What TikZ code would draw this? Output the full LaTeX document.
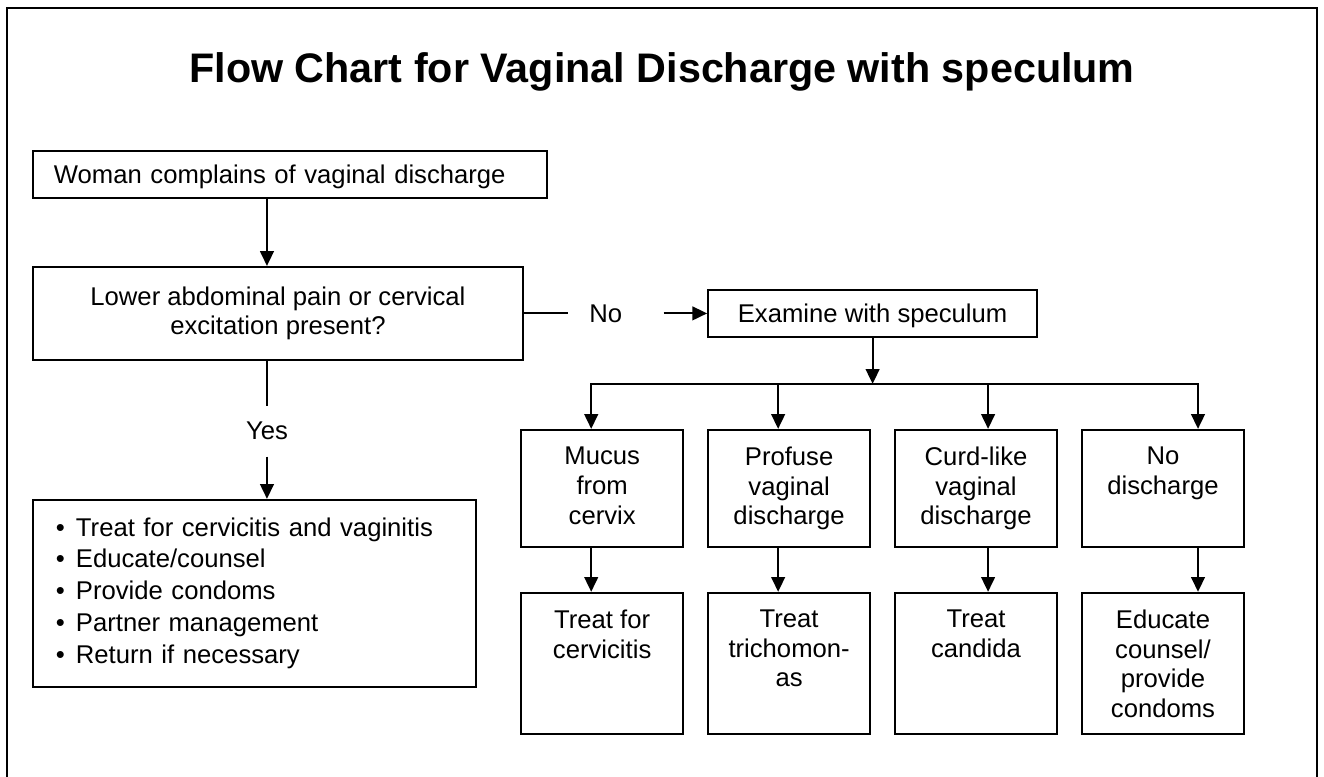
\documentclass[tikz,border=0pt]{standalone}
\usepackage{fontspec}
\setmainfont{Liberation Sans}
\usepackage{tikz}
\usetikzlibrary{arrows.meta, positioning, calc}
\newcommand{\celltext}[2]{\parbox[c][#1][t]{3.24cm}{\centering\vspace*{0.35cm}#2}}
\newcommand{\bul}{\makebox[0.4cm][l]{\textbullet}}
\tikzset{
    font=\fontsize{14.6pt}{16.8pt}\selectfont,
    >={Triangle[length=8.4pt, width=7.8pt]},
    % Shapes
    box/.style={rectangle, draw, line width=1.1pt, inner sep=0pt},
    single/.style={box, minimum height=0.94cm, text depth=0pt},
    cellTop/.style={box, minimum width=3.24cm, minimum height=2.34cm},
    cellBot/.style={box, minimum width=3.24cm, minimum height=2.82cm},
    title/.style={font=\bfseries\fontsize{23.5pt}{28pt}\selectfont, anchor=base},
    % Flow & Labels
    flow/.style={->, line width=1.1pt},
    link/.style={line width=1.1pt},
    lbl/.style={inner sep=0pt}
}

\begin{document}
\begin{tikzpicture}[node distance=0.46cm]
\useasboundingbox (0,0) rectangle (26.48,-15.54);
\draw[link] (0.14,-15.54) |- (26.34,-0.16) -- (26.34,-15.54);

\node[title] (title) at (13.24,-1.66) {Flow Chart for Vaginal Discharge with speculum};

% left column
\node[single, anchor=north west, text width=9.44cm, inner xsep=0.42cm, align=left] (woman) at (0.64,-3.0) {Woman complains of vaginal discharge};
\node[box, below=1.34cm of woman.south west, anchor=north west, minimum width=9.8cm, minimum height=1.86cm, align=center] (lower) {Lower abdominal pain or cervical\\excitation present?};
\node[lbl, below=0.9cm of lower, xshift=-0.22cm, minimum height=1cm] (yes) {Yes};
\node[box, below=2.76cm of lower.south west, anchor=north west, minimum height=3.74cm, text width=7.94cm, inner xsep=0.46cm, align=left, font=\fontsize{14.6pt}{18.2pt}\selectfont] (todo) {\bul Treat for cervicitis and vaginitis\\\bul Educate/counsel\\\bul Provide condoms\\\bul Partner management\\\bul Return if necessary};

% right side
\node[lbl, right=0.88cm of lower, text width=1.06cm, inner xsep=0.42cm, align=left] (no) {No};
\node[single, right=0.87cm of no, minimum width=6.58cm] (examine) {Examine with speculum};
\coordinate[below=0.92cm of examine.south] (split);

\node[cellTop, below=1.82cm of examine.south west, anchor=north west] (profuse) {\celltext{2.34cm}{Profuse\\vaginal\\discharge}};
\node[cellTop, left=of profuse] (mucus) {\celltext{2.34cm}{Mucus\\from\\cervix}};
\node[cellTop, right=of profuse] (curd) {\celltext{2.34cm}{Curd-like\\vaginal\\discharge}};
\node[cellTop, right=of curd] (nodis) {\celltext{2.34cm}{No\\discharge}};

\node[cellBot, below=0.88cm of mucus] (cervicitis) {\celltext{2.82cm}{Treat for\\cervicitis}};
\node[cellBot, below=0.88cm of profuse] (trich) {\celltext{2.82cm}{Treat\\trichomon-\\as}};
\node[cellBot, below=0.88cm of curd] (candida) {\celltext{2.82cm}{Treat\\candida}};
\node[cellBot, below=0.88cm of nodis] (educ) {\celltext{2.82cm}{Educate\\counsel/\\provide\\condoms}};

\draw[flow] (woman.south -| yes) -- (lower.north -| yes);
\draw[link] (lower.south -| yes) -- (yes);
\draw[flow] (yes) -- (todo.north -| yes);
\draw[link] (lower) -- (no);
\draw[flow] (no) -- (examine);
\draw[flow] (examine) -- (split);
\foreach \ask/\act/\dx in {mucus/cervicitis/1.42, profuse/trich/1.42, curd/candida/1.88, nodis/educ/2.34} {
    \coordinate (\ask-in) at ($(\ask.north west)+(\dx,0)$);
    \draw[flow] (split) -| (\ask-in);
    \draw[flow] (\ask.south -| \ask-in) -- (\act.north -| \ask-in);
}

\end{tikzpicture}
\end{document}
